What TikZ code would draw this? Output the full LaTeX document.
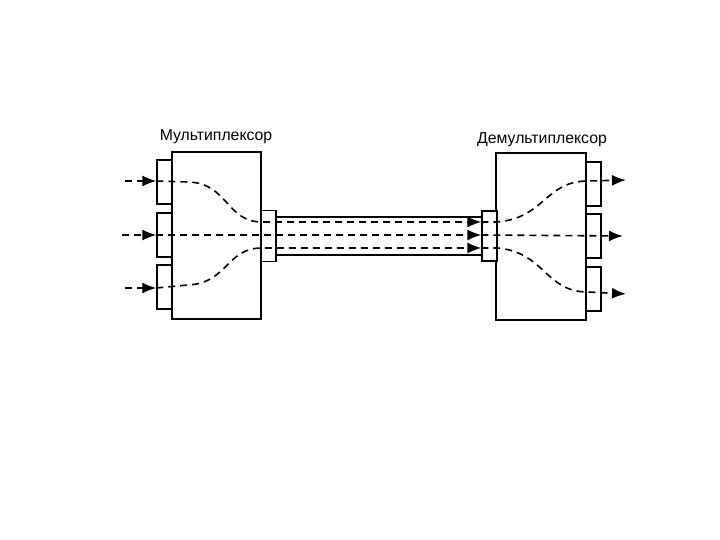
\documentclass[tikz,border=0pt]{standalone}
\usepackage{fontspec}
\setmainfont{Liberation Sans}
\usetikzlibrary{arrows.meta}
\usetikzlibrary{positioning}

\begin{document}
\begin{tikzpicture}[x=0.5pt,y=-0.5pt,
    box/.style={draw,line width=0.7pt,fill=white,inner sep=0pt},
    port/.style={box,minimum width=7.5pt,minimum height=22pt},
    sig/.style={dash pattern=on 3.5pt off 2.5pt,line width=0.8pt},
    tip/.style={-{Latex[length=7pt,width=5.5pt]}},
    lbl/.style={font=\fontsize{7.9}{9}\selectfont,inner sep=0pt}]
  \useasboundingbox (0,0) rectangle (720,540);

  % multiplexor
  \node[box,minimum width=44.5pt,minimum height=83.5pt] (mux) at (216.5,235.5) {};
  \node[lbl] (muxtxt) at (216,137) {Мультиплексор};
  \node[port] (in1p) at (164.5,182) {};
  \node[port] (in2p) at (164.5,235) {};
  \node[port] (in3p) at (164.5,287) {};
  \node[port,minimum height=25.5pt] (mp) at (268.5,236) {};

  % demultiplexor
  \node[box,minimum width=45pt,minimum height=83.5pt] (dmx) at (541,236.5) {};
  \node[lbl] (dmxtxt) at (542,140) {Демультиплексор};
  \node[port] (out1p) at (593.5,184) {};
  \node[port] (out2p) at (593.5,236) {};
  \node[port] (out3p) at (593.5,289) {};
  \node[port,minimum height=25pt] (dp) at (489.5,236) {};

  % cable
  \draw[line width=0.7pt] ([yshift=9.5pt]mp.east) -- ([yshift=9.5pt]dp.west);
  \draw[line width=0.9pt] ([yshift=-9.5pt]mp.east) -- ([yshift=-9.5pt]dp.west);

  % signals in
  \coordinate (in1) at (125,181);
  \coordinate (in2) at (122,235);
  \coordinate (in3) at (125,288);
  \foreach \i in {1,2,3} {
    \draw[sig,tip] (in\i) -- (in\i -| in\i p.west);
  }
  \draw[sig,tip] (in1 -| in1p.west) -- (188,182) .. controls (228,183) and (226,222) .. (262,222) -- (dp.west |- 0,222);
  \draw[sig,tip] (in2 -| in2p.west) -- (dp.west |- 0,235);
  \draw[sig,tip] (in3 -| in3p.west) -- (188,285) .. controls (228,283) and (226,248) .. (262,248) -- (dp.west |- 0,248);

  % signals out
  \coordinate (out1) at (626,180);
  \coordinate (out2) at (623,236);
  \coordinate (out3) at (626,294);
  \draw[sig,tip] (dp.west |- 0,222) -- (497,222) .. controls (545,218) and (545,181) .. (588,181) -- (out1);
  \draw[sig,tip] (dp.west |- 0,235) -- (out2);
  \draw[sig,tip] (dp.west |- 0,248) -- (497,248) .. controls (545,252) and (545,292) .. (588,292) -- (out3);
\end{tikzpicture}
\end{document}
